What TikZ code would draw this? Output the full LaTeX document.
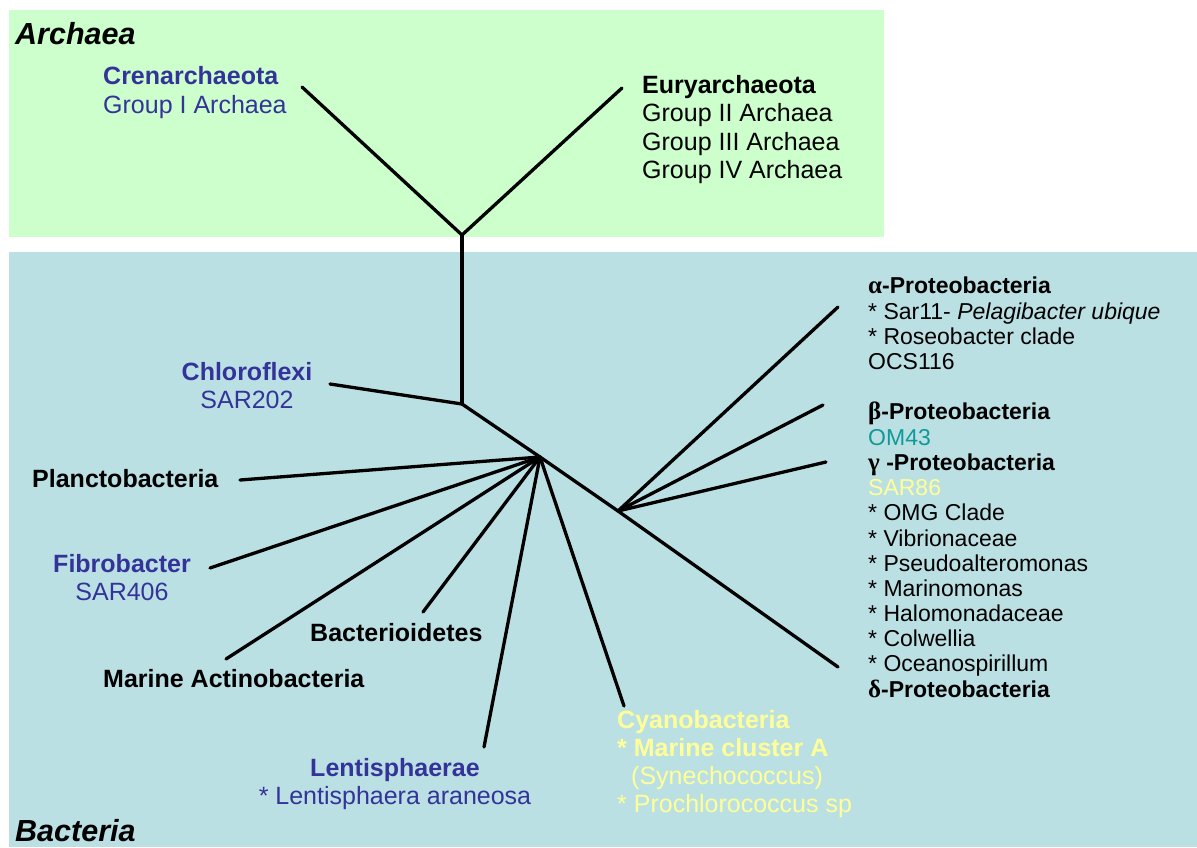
\documentclass[tikz,border=0pt]{standalone}
\usepackage{fontspec}
\setmainfont{Liberation Sans}
\newfontfamily\greekserif{Liberation Serif}
\definecolor{archbg}{HTML}{CCFFCC}
\definecolor{bactbg}{HTML}{BBE0E3}
\definecolor{navy}{HTML}{333399}
\definecolor{paleyel}{HTML}{FFFF99}
\definecolor{tealc}{HTML}{119999}
\newcommand{\gk}[1]{{\greekserif\fontsize{25}{25}\selectfont #1}}
\tikzset{
  branch/.style={line width=3.3pt, line cap=round},
  big/.style={font=\fontsize{25}{28}\selectfont, inner sep=0pt},
  small/.style={font=\fontsize{23}{25}\selectfont, inner sep=0pt},
  lab/.style={anchor=base west},
  clab/.style={anchor=base},
}
\begin{document}
\begin{tikzpicture}[x=1pt,y=-1pt]
\useasboundingbox (0,0) rectangle (1197,847);
\fill[white] (0,0) rectangle (1197,847);
% backgrounds
\fill[archbg] (9,10) rectangle (884,237);
\fill[bactbg] (9,252) rectangle (1197,847);
% tree coordinates
\coordinate (A) at (462,235);
\coordinate (cren) at (302,87);
\coordinate (eury) at (622,88);
\coordinate (B) at (462,404);
\coordinate (chlo) at (330,384);
\coordinate (C) at (540,457);
\coordinate (D) at (618,511);
\coordinate (alpha) at (838,307);
\coordinate (beta) at (823,405);
\coordinate (gamma) at (826,462);
\coordinate (delta) at (838,667);
\coordinate (planc) at (240,480);
\coordinate (fibro) at (210,568);
\coordinate (actino) at (226,659);
\coordinate (bacto) at (423,612);
\coordinate (lenti) at (484,747);
\coordinate (cyano) at (624,706);
% branches
\draw[branch] (cren) -- (A) -- (eury);
\draw[branch] (A) -- (B);
\draw[branch] (chlo) -- (B) -- (C) -- (D);
\draw[branch] (D) -- (alpha);
\draw[branch] (D) -- (beta);
\draw[branch] (D) -- (gamma);
\draw[branch] (D) -- (delta);
\draw[branch] (C) -- (planc);
\draw[branch] (C) -- (fibro);
\draw[branch] (C) -- (actino);
\draw[branch] (C) -- (bacto);
\draw[branch] (C) -- (lenti);
\draw[branch] (C) -- (cyano);
% domain labels
\node[lab, inner sep=0pt, font=\fontsize{30.5}{32}\selectfont\bfseries\itshape] (tArch) at (15,44) {Archaea};
\node[lab, inner sep=0pt, font=\fontsize{30.5}{32}\selectfont\bfseries\itshape] (tBact) at (15,841) {Bacteria};
% Archaea labels
\node[big, lab, text=navy, font=\fontsize{25}{28}\selectfont\bfseries] (t1) at (103,84) {Crenarchaeota};
\node[big, lab, text=navy] (t2) at (103,113) {Group I Archaea};
\node[big, lab, font=\fontsize{25}{28}\selectfont\bfseries] (t3) at (642,93) {Euryarchaeota};
\node[big, lab] (t4) at (642,121) {Group II Archaea};
\node[big, lab] (t5) at (642,150) {Group III Archaea};
\node[big, lab] (t6) at (642,178) {Group IV Archaea};
% left bacteria
\node[big, clab, text=navy, font=\fontsize{25}{28}\selectfont\bfseries] (t7) at (247,380) {Chloroflexi};
\node[big, clab, text=navy] (t8) at (247,408) {SAR202};
\node[big, lab, font=\fontsize{25}{28}\selectfont\bfseries] (t9) at (32,487) {Planctobacteria};
\node[big, clab, text=navy, font=\fontsize{25}{28}\selectfont\bfseries] (t10) at (122,572) {Fibrobacter};
\node[big, clab, text=navy] (t11) at (122,600) {SAR406};
\node[big, lab, font=\fontsize{25}{28}\selectfont\bfseries] (t12) at (310,641) {Bacterioidetes};
\node[big, lab, font=\fontsize{25}{28}\selectfont\bfseries] (t13) at (103,687) {Marine Actinobacteria};
\node[big, clab, text=navy, font=\fontsize{25}{28}\selectfont\bfseries] (t14) at (395,776) {Lentisphaerae};
\node[big, clab, text=navy] (t15) at (395,804) {* Lentisphaera araneosa};
% cyanobacteria
\node[big, lab, text=paleyel, font=\fontsize{25}{28}\selectfont\bfseries] (t16) at (617,728) {Cyanobacteria};
\node[big, lab, text=paleyel, font=\fontsize{25}{28}\selectfont\bfseries] (t17) at (617,756) {* Marine cluster A};
\node[big, lab, text=paleyel] (t18) at (631,784) {(Synechococcus)};
\node[big, lab, text=paleyel] (t19) at (617,812) {* Prochlorococcus sp};
% proteobacteria
\node[small, lab, font=\fontsize{23}{25}\selectfont\bfseries] (p1) at (868,293) {\gk{α}-Proteobacteria};
\node[small, lab] (p2) at (868,319) {* Sar11- \textit{Pelagibacter ubique}};
\node[small, lab] (p3) at (868,344) {* Roseobacter clade};
\node[small, lab] (p4) at (868,369) {OCS116};
\node[small, lab, font=\fontsize{23}{25}\selectfont\bfseries] (p5) at (868,419) {\gk{β}-Proteobacteria};
\node[small, lab, text=tealc] (p6) at (868,445) {OM43};
\node[small, lab, font=\fontsize{23}{25}\selectfont\bfseries] (p7) at (868,470) {\gk{γ} -Proteobacteria};
\node[small, lab, text=paleyel] (p8) at (868,495) {SAR86};
\node[small, lab] (p9) at (868,520) {* OMG Clade};
\node[small, lab] (p10) at (868,546) {* Vibrionaceae};
\node[small, lab] (p11) at (868,571) {* Pseudoalteromonas};
\node[small, lab] (p12) at (868,596) {* Marinomonas};
\node[small, lab] (p13) at (868,621) {* Halomonadaceae};
\node[small, lab] (p14) at (868,646) {* Colwellia};
\node[small, lab] (p15) at (868,671) {* Oceanospirillum};
\node[small, lab, font=\fontsize{23}{25}\selectfont\bfseries] (p16) at (868,697) {\gk{δ}-Proteobacteria};
\end{tikzpicture}
\end{document}
